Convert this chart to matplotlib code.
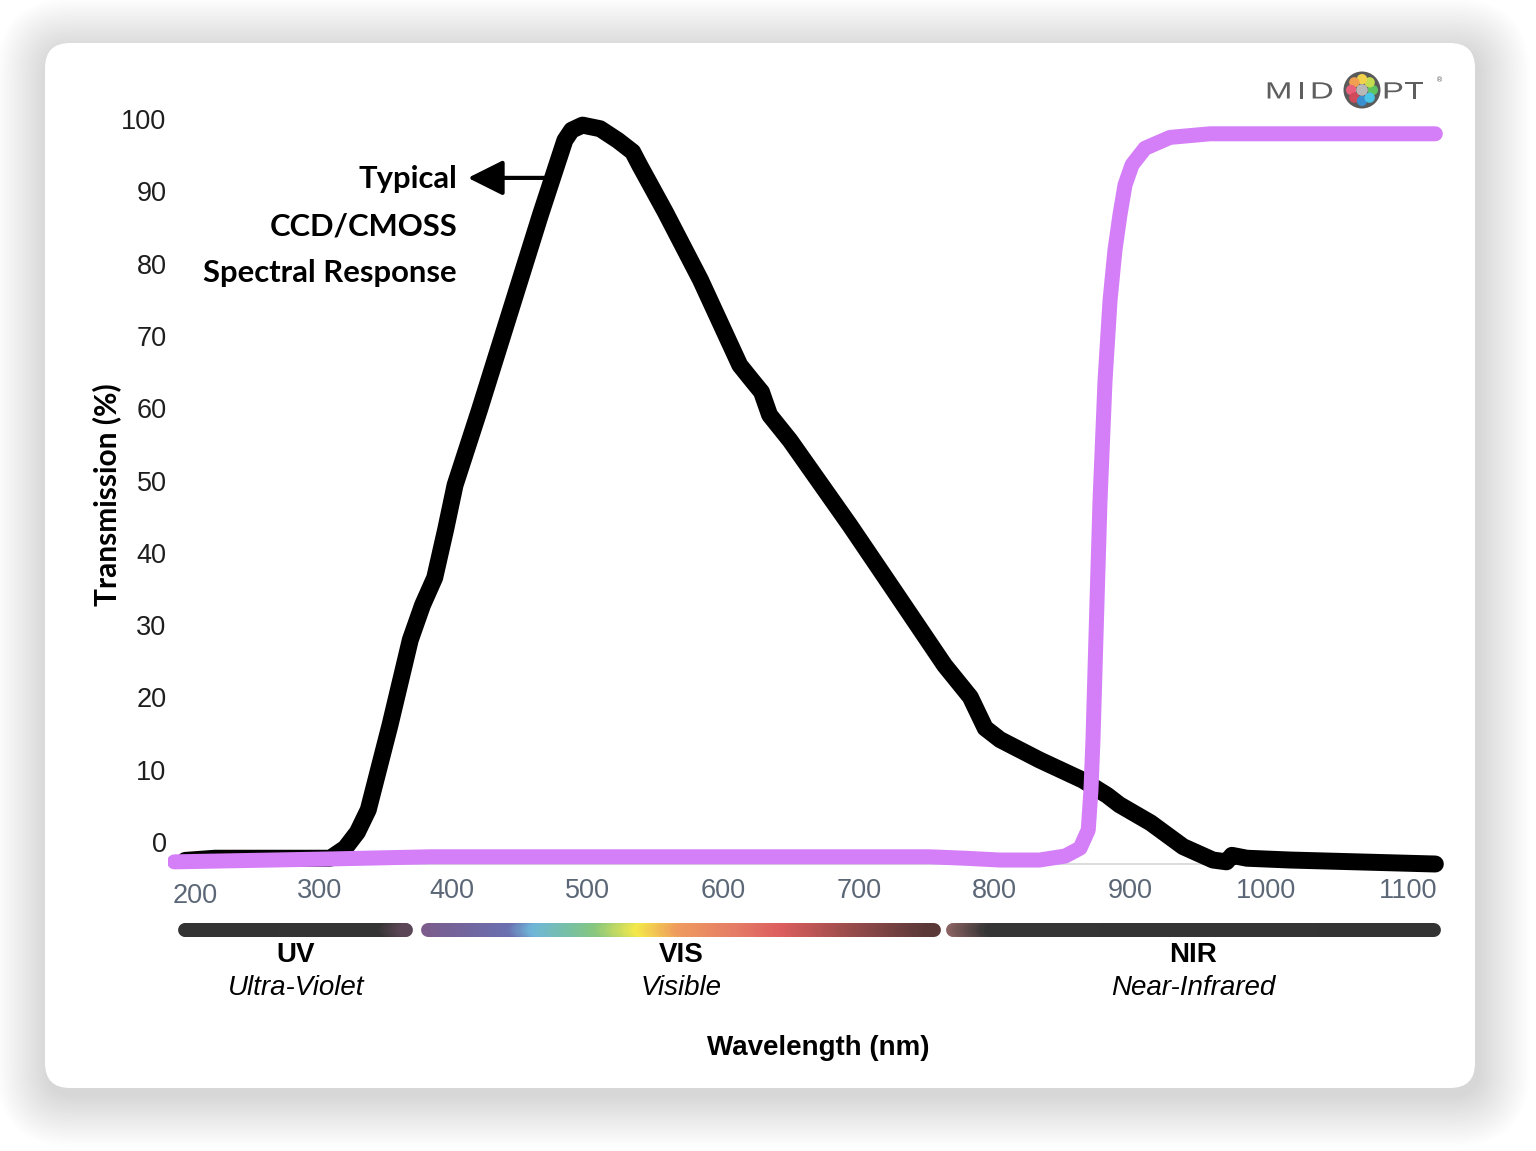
import matplotlib
matplotlib.use("Agg")
import numpy as np
import matplotlib.pyplot as plt
import matplotlib.transforms as mtransforms
from matplotlib.patches import FancyBboxPatch, Circle, PathPatch
from matplotlib.collections import LineCollection
from matplotlib.colors import LinearSegmentedColormap
from matplotlib.textpath import TextPath
from matplotlib.font_manager import FontProperties

# Typical CCD/CMOS sensor response (black curve)
sensor_wl = [203, 225, 310, 321, 330, 338, 354, 369, 378, 387, 395, 402, 420, 443, 465,
             483, 488, 496, 509, 522, 533, 538, 557, 583, 612, 621, 628, 634, 649, 693,
             723, 763, 782, 793, 804, 833, 865, 883, 892, 915, 939, 961, 971, 975, 986,
             1018, 1125]
sensor_t = [0.5, 0.8, 0.8, 2.2, 4.4, 7.5, 19.2, 31.0, 35.8, 39.6, 46.2, 52.4, 62.8, 76.6, 89.8,
            100.1, 101.5, 102.2, 101.7, 100.1, 98.5, 96.7, 90.2, 80.8, 69.0, 66.9, 65.3, 62.1, 58.6, 46.9,
            38.6, 27.5, 23.1, 18.8, 17.2, 14.4, 11.6, 9.5, 8.2, 5.7, 2.4, 0.55, 0.3, 1.2, 0.8,
            0.55, 0.0]

# Longpass filter transmission (violet curve)
filter_wl = [195, 310, 384, 752, 778, 804, 833, 852, 863, 869, 871, 872.5, 875.5, 877.7,
             881.4, 885.1, 888.7, 892.4, 896.1, 901.3, 910.9, 929.3, 958.8, 1125]
filter_t = [0.3, 0.7, 1.0, 1.0, 0.8, 0.55, 0.55, 1.1, 2.2, 4.7, 10.2, 17.2, 36.5, 50.3,
            66.9, 78.0, 84.9, 89.8, 93.9, 96.7, 99.0, 100.5, 101.0, 101.0]

x_ticks = [200, 300, 400, 500, 600, 700, 800, 900, 1000, 1100]
y_ticks = [0, 10, 20, 30, 40, 50, 60, 70, 80, 90, 100]

band_names = ["UV", "VIS", "NIR"]
band_desc = ["Ultra-Violet", "Visible", "Near-Infrared"]
band_start = [203, 382, 769]
band_end = [366, 755, 1124]

W, H = 1536, 1151
fig = plt.figure(figsize=(W / 100, H / 100), dpi=100, facecolor="white")
# pixel coordinates, origin top-left
pt = mtransforms.Affine2D().scale(1 / W, -1 / H).translate(0, 1) + fig.transFigure

# card with soft shadow
for i in range(40, 0, -1):
    p = i * 1.3
    fig.add_artist(FancyBboxPatch((45 - p + 3, 43 - p + 7), 1430 + 2 * p, 1045 + 2 * p,
                                  boxstyle="round,pad=0,rounding_size=%f" % (25 + p),
                                  transform=pt, facecolor="black", edgecolor="none",
                                  alpha=0.0022, zorder=-10))
fig.add_artist(FancyBboxPatch((45, 43), 1430, 1045, boxstyle="round,pad=0,rounding_size=25",
                              transform=pt, facecolor="white", edgecolor="none", zorder=-5))

ax = fig.add_axes([167.6 / W, 1 - 885.7 / H, (1448.9 - 167.6) / W, (885.7 - 112.1) / H])
ax.set_facecolor("none")
ax.set_xlim(190, 1135)
ax.set_ylim(-3, 104)
for s in ax.spines.values():
    s.set_visible(False)
ax.set_xticks([])
ax.set_yticks([])

ax.axhline(0, xmin=0.01, xmax=0.99, color="#d6d6d6", lw=1.2, zorder=1)
ax.plot(sensor_wl, sensor_t, color="black", lw=12.2, solid_joinstyle="round",
        solid_capstyle="round", zorder=3)
ax.plot(filter_wl, filter_t, color="#d47ef7", lw=10.8, solid_joinstyle="round",
        solid_capstyle="round", zorder=4)

# tick labels
ylab_tr = mtransforms.offset_copy(mtransforms.blended_transform_factory(ax.transAxes, ax.transData),
                                  fig=fig, x=-1, y=19, units="dots")
for v in y_ticks:
    ax.text(0, v, str(v), transform=ylab_tr, ha="right", va="center", fontsize=19.5,
            family="Liberation Sans", color="#1e1e1e")
x_off = {200: (14, -10), 300: (3, -5), 1100: (7, -5)}
for v in x_ticks:
    dx, dy = x_off.get(v, (0, -5))
    tr = mtransforms.offset_copy(mtransforms.blended_transform_factory(ax.transData, ax.transAxes),
                                 fig=fig, x=dx, y=dy, units="dots")
    ax.text(v, 0, str(v), transform=tr, ha="center", va="center", fontsize=19.5,
            family="Liberation Sans", color="#5b6776")

# annotation
ann_font = ["Lato", "DejaVu Sans"]
for txt, yv in zip(["Typical", "CCD/CMOSS", "Spectral Response"], [94.7, 88.2, 81.7]):
    ax.text(403.5, yv, txt, ha="right", va="center", fontsize=22.3, fontweight="bold",
            family=ann_font, color="black")
ax.annotate("", xy=(411.5, 94.9), xytext=(468.3, 94.9),
            arrowprops=dict(arrowstyle="-|>,head_length=21.6,head_width=10.8", mutation_scale=1,
                            color="black", lw=3, shrinkA=0, shrinkB=0), zorder=2)

# spectrum bands
bax = fig.add_axes([167.6 / W, 1 - 940 / H, (1448.9 - 167.6) / W, 20 / H], sharex=ax)
bax.set_facecolor("none")
bax.set_ylim(0, 1)
bax.axis("off")
band_stops = [
    [(0, "#333333"), (0.9, "#343434"), (1, "#5a4656")],
    [(0, "#7b5c8c"), (0.166, "#6a6fb0"), (0.216, "#6fb6d9"), (0.281, "#77bfaa"),
     (0.339, "#86c77f"), (0.422, "#f4e94a"), (0.505, "#ef9a5e"), (0.62, "#e57c66"),
     (0.711, "#dc5d5d"), (0.846, "#9a4c4c"), (1, "#5a3838")],
    [(0, "#8a6262"), (0.08, "#353535"), (1, "#333333")],
]
for b0, b1, stops in zip(band_start, band_end, band_stops):
    cmap = LinearSegmentedColormap.from_list("band", stops)
    xs = np.linspace(b0, b1, 300)
    segs = [[(xs[i], 0.5), (xs[i + 1], 0.5)] for i in range(len(xs) - 1)]
    cols = cmap(np.linspace(0, 1, len(segs)))
    bax.add_collection(LineCollection(segs, colors=cols, linewidths=10, capstyle="round"))

lab_tr = mtransforms.blended_transform_factory(ax.transData, pt)
for b0, b1, name, desc in zip(band_start, band_end, band_names, band_desc):
    c = (b0 + b1) / 2
    ax.text(c, 955, name, transform=lab_tr, ha="center", va="center", fontsize=20,
            fontweight="bold", family="Liberation Sans", color="black")
    ax.text(c, 988, desc, transform=lab_tr, ha="center", va="center", fontsize=20,
            style="italic", family="Liberation Sans", color="black")

fig.text(818, 1048, "Wavelength (nm)", transform=pt, ha="center", va="center", fontsize=20,
         fontweight="bold", family="Liberation Sans")
fig.text(107, 495, "Transmission (%)", transform=pt, ha="center", va="center", fontsize=21.5,
         fontweight="bold", family=ann_font, rotation=90)

# logo: wide letters around a coloured ring
logo_fp = FontProperties(family="Liberation Sans")
for ch, x in zip("MIDPT", [1265, 1297, 1310, 1382, 1404]):
    tp = TextPath((0, 0), ch, size=23.5, prop=logo_fp)
    fig.add_artist(PathPatch(tp, transform=mtransforms.Affine2D().scale(1.4, -1).translate(x, 98.5) + pt,
                             facecolor="#5e5e5e", edgecolor="none", zorder=5))
fig.text(1440, 80, "®", transform=pt, ha="center", va="center", fontsize=5, color="#5e5e5e")
fig.add_artist(Circle((1362, 90), 18.5, transform=pt, facecolor="#5a5a5a", edgecolor="none", zorder=5))
dot_cols = ["#5ec35e", "#c5dc50", "#f2d24a", "#f0a050", "#e8607a", "#d04a5a", "#3a8fd0", "#4cc4e8"]
for k, col in enumerate(dot_cols):
    a = np.deg2rad(45 * k)
    fig.add_artist(Circle((1362 + 10.8 * np.cos(a), 90 - 10.8 * np.sin(a)), 5.2, transform=pt,
                          facecolor=col, edgecolor="none", zorder=6))
fig.add_artist(Circle((1362, 90), 5.8, transform=pt, facecolor="#b8b8b8", edgecolor="none", zorder=6))

fig.savefig("out.png", dpi=100)
